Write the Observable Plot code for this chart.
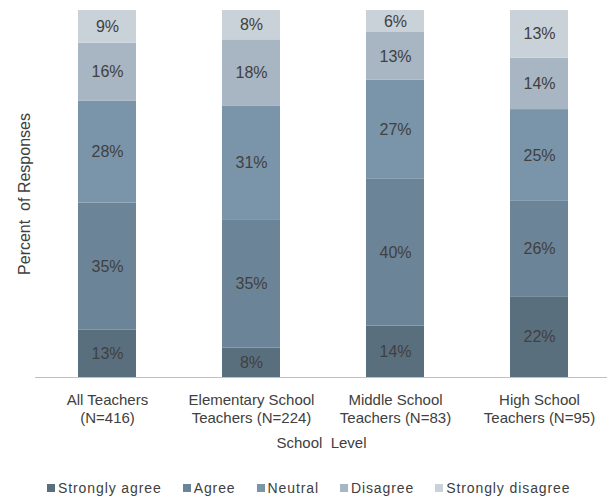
<!DOCTYPE html>
<html>
<head>
<meta charset="utf-8">
<script src="https://cdn.jsdelivr.net/npm/d3@7"></script>
<script src="https://cdn.jsdelivr.net/npm/@observablehq/plot@0.6"></script>
<style>
  body { margin: 0; background: #fff; }
  #chart svg { display: block; }
  .lg-swatches { margin: 0; font-family: "Liberation Sans", Arial, sans-serif; font-size: 14px; color: #404040; letter-spacing: 0.9px; }
  .lg-swatches-wrap { padding-left: 47px; min-height: 33px; }
  .lg-swatch { margin-right: 21px; }
  .lg-swatch > svg { margin-right: 3px; }
</style>
</head>
<body>
<div id="chart"></div>
<script>
const categories = ["All Teachers", "Elementary School Teachers", "Middle School Teachers", "High School Teachers"];
const tickLabels = ["All Teachers\n(N=416)", "Elementary School\nTeachers (N=224)", "Middle School\nTeachers (N=83)", "High School\nTeachers (N=95)"];
const series = ["Strongly agree", "Agree", "Neutral", "Disagree", "Strongly disagree"];
const colors = ["#5a6f7e", "#6c8497", "#7a95aa", "#a7b6c2", "#c9d1d9"];
const stronglyAgree    = [13, 8, 14, 22];
const agree            = [35, 35, 40, 26];
const neutral          = [28, 31, 27, 25];
const disagree         = [16, 18, 13, 14];
const stronglyDisagree = [9, 8, 6, 13];
const yTitle = "Percent\u00A0 of Responses";
const xTitle = "School\u00A0 Level";

const seriesValues = [stronglyAgree, agree, neutral, disagree, stronglyDisagree];
const rows = [];
series.forEach((s, si) => categories.forEach((c, ci) => rows.push({category: c, response: s, value: seriesValues[si][ci]})));

const W = 607, H = 471;
const svg = Plot.plot({
  width: W,
  height: H,
  marginTop: 10,
  marginBottom: H - 377,
  marginLeft: 35,
  marginRight: 0,
  style: {fontFamily: "Liberation Sans, Arial, sans-serif", color: "#404040", background: "#fff"},
  x: {domain: categories, range: [35, 611], paddingInner: 0.6, paddingOuter: 0.3, axis: null},
  y: {domain: [0, 1], axis: null},
  color: {domain: series, range: colors},
  marks: [
    Plot.barY(rows, Plot.stackY({x: "category", y: "value", fill: "response", offset: "normalize"})),
    Plot.text(rows, Plot.stackY({x: "category", y: "value", z: "response", offset: "normalize",
      text: d => d.value + "%", fontSize: 16, fill: "#404040", ariaLabel: "values"})),
    Plot.ruleY([0], {stroke: "#c0c0c0", strokeWidth: 1}),
    Plot.text(categories, {x: d => d, text: (d, i) => tickLabels[i], frameAnchor: "bottom", lineAnchor: "top",
      dy: 15, lineHeight: 1.2, fontSize: 15, fill: "#404040", ariaLabel: "ticks"}),
    Plot.text([xTitle], {text: d => d, frameAnchor: "bottom", lineAnchor: "top", textAnchor: "middle", dy: 60, fontSize: 15,
      fill: "#404040", ariaLabel: "xtitle"}),
    Plot.text([yTitle], {text: d => d, frameAnchor: "left", textAnchor: "middle", lineAnchor: "middle", rotate: -90, dx: -10.5, fontSize: 16,
      fill: "#404040", ariaLabel: "ytitle"})
  ]
});
const s = d3.select(svg);
s.select('g[aria-label="values"]').style("letter-spacing", "0.3px");
s.select('g[aria-label="ticks"]').style("letter-spacing", "0.7px");
s.select('g[aria-label="xtitle"]').style("letter-spacing", "1.3px");
s.select('g[aria-label="ytitle"]').style("letter-spacing", "1.6px");

const legend = Plot.legend({
  color: {domain: series, range: colors},
  legend: "swatches",
  swatchSize: 8,
  className: "lg"
});
const chart = document.getElementById("chart");
chart.append(svg, legend);
</script>
</body>
</html>
